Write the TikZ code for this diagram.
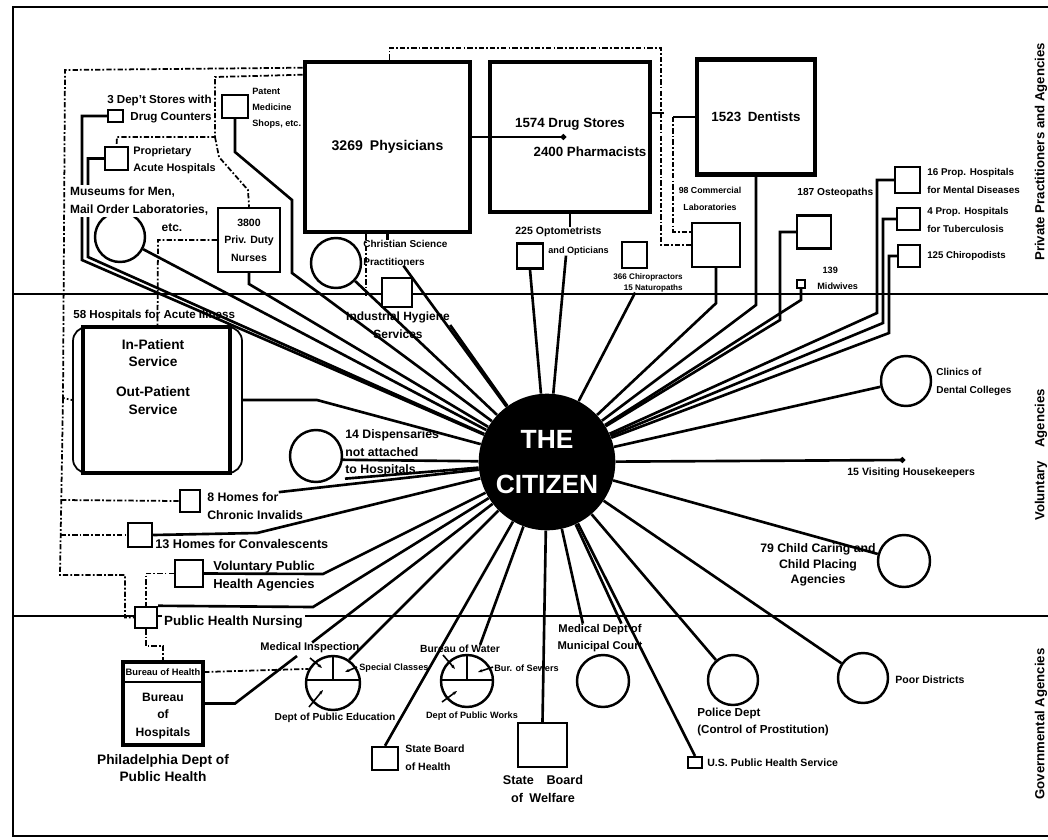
\documentclass[tikz,border=0pt]{standalone}
\usepackage{fontspec}
\setmainfont{Liberation Sans}
\usetikzlibrary{arrows.meta,calc}
\pgfdeclarelayer{bg}
\pgfsetlayers{bg,main}

\begin{document}
\begin{tikzpicture}[
  x=0.02cm, y=-0.02cm,
  lbl/.style={font={\bfseries\fontsize{7}{10}\selectfont}, inner sep=0pt, align=left},
  slbl/.style={font={\bfseries\fontsize{5.2}{9}\selectfont}, inner sep=0pt, align=left},
  fs/.style={font={\bfseries\fontsize{#1}{10}\selectfont}},
  biglbl/.style={font={\bfseries\fontsize{7.6}{9}\selectfont}},
  sz/.style 2 args={minimum width={#1*0.02cm}, minimum height={#2*0.02cm}},
  sbox/.style={rectangle, draw, line width=1.4pt, fill=white, inner sep=0pt},
  bigbox/.style={rectangle, draw, line width=2.6pt, fill=white, inner sep=0pt},
  ring/.style={circle, draw, line width=1.4pt, fill=white, inner sep=0pt, minimum size={#1*0.02cm}},
  spoke/.style={line width=1.5pt},
  dashdot/.style={line width=1pt, dash pattern=on 3pt off 1.2pt on 1pt off 1.2pt},
  divider/.style={line width=1.2pt},
  tick/.style={line width=0.9pt, -{Stealth[length=2.5pt]}},
  side/.style={font={\bfseries\fontsize{7.5}{9}\selectfont}, rotate=90, inner sep=0pt}
]
\useasboundingbox (0,0) rectangle (1048,839);

% private practitioners and agencies
\node[bigbox, sz={165}{170}, biglbl, font={\bfseries\fontsize{8}{9}\selectfont}] (phys) at (387.5,147) {3269\enspace Physicians};
\node[bigbox, sz={160}{150}] (drug) at (570,137) {};
\node[biglbl, inner sep=0pt] (druglbl) at (570,124) {1574 Drug Stores};
\node[biglbl, inner sep=0pt] (pharmlbl) at (590,152) {2400 Pharmacists};
\coordinate (rxdot) at (566,137);
\node[bigbox, sz={118}{115}, biglbl] (dent) at (756,117) {1523\enspace Dentists};
\node[sbox, sz={48}{44}] (comlab) at (716,245) {};
\node[slbl, align=center, fs=5] (comlablbl) at (710,199) {98 Commercial\\Laboratories};
\node[sbox, sz={26}{25}] (optom) at (530,256) {};
\node[slbl, anchor=west, fs=6] (optlbla) at (515,232) {225 Optometrists};
\node[slbl, anchor=west] (optlblb) at (548,251) {and Opticians};
\node[sbox, sz={25}{26}] (chiro) at (634.5,255) {};
\node[slbl, font={\bfseries\fontsize{4.6}{6.2}\selectfont}, align=right, anchor=east] (chirolbl) at (683,283) {366 Chiropractors\\15 Naturopaths};
\node[sbox, sz={34}{33}] (osteo) at (814,232) {};
\node[slbl, anchor=west, fs=5.8] (osteolbl) at (797,193) {187 Osteopaths};
\node[sbox, line width=1pt, sz={8}{8}] (midw) at (801,284) {};
\node[slbl, anchor=west] (midwlbl) at (817,278) {\hspace*{3pt}139\\Midwives};
\node[sbox, sz={25}{26}] (mental) at (907.5,180) {};
\node[slbl, anchor=west, fs=5.6] (mentallbl) at (927,181) {16 Prop. Hospitals\\for Mental Diseases};
\node[sbox, sz={23}{22}] (tuber) at (908.5,219) {};
\node[slbl, anchor=west, fs=5.6] (tuberlbl) at (927,220) {4 Prop. Hospitals\\for Tuberculosis};
\node[sbox, sz={22}{22}] (podist) at (909,256) {};
\node[slbl, anchor=west, fs=5.5] (podistlbl) at (927,256) {125 Chiropodists};

\node[sbox, sz={15}{12}] (dstore) at (115.5,116) {};
\node[slbl, align=right, anchor=east, fs=6.6] (dstorelbl) at (212,109) {3 Dep't Stores with\\Drug Counters};
\node[sbox, sz={23}{23}] (propacute) at (116.5,158.5) {};
\node[slbl, anchor=west, fs=6.2] (propacutelbl) at (133,160) {Proprietary\\Acute Hospitals};
\node[ring=50] (museum) at (120,237) {};
\node[lbl, anchor=west, fill=white, inner sep=1pt, fs=6.8] (museumlbl) at (68,201) {Museums for Men,\\Mail Order Laboratories,};
\node[lbl, fs=6.8] (museumetc) at (172,228) {etc.};
\node[sbox, sz={26}{23}] (patent) at (235,106.5) {};
\node[slbl, anchor=west] (patentlbl) at (252,108) {Patent\\Medicine\\Shops, etc.};
\node[sbox, sz={62}{64}, lbl, fs=6, align=center] (nurses) at (249,240) {3800\\Priv. Duty\\Nurses};
\node[ring=50] (xsci) at (336,263) {};
\node[slbl, anchor=north west, fs=5.7] (xscilbl) at (363,240) {Christian Science\\Practitioners};
\node[sbox, sz={30}{29}] (indhyg) at (397,292.5) {};
\node[lbl, align=center, fs=6.8] (indhyglbl) at (398,325) {Industrial Hygiene\\Services};

% voluntary agencies
\node[slbl, anchor=west, fs=6.6] (acutelbl) at (73,315) {58 Hospitals for Acute Illness};
\node[draw, line width=1pt, rounded corners=8pt, sz={169}{146}] (hosp) at (157.5,400) {};
\node[draw, line width=2pt, sz={147}{146}] (hospin) at (156.5,400) {};
\node[lbl, align=center, fs=7.8] (hosplbl) at (153,377) {In-Patient\\Service\\[7pt]Out-Patient\\Service};
\node[ring=52] (disp) at (316,456) {};
\node[lbl, anchor=west] (displbl) at (345,453) {14 Dispensaries\\not attached\\to Hospitals};
\node[sbox, sz={20}{22}] (home8) at (190,501) {};
\node[lbl, anchor=west] (home8a) at (207,497) {8 Homes for};
\node[lbl, anchor=west] (home8b) at (207,515) {Chronic Invalids};
\node[sbox, sz={24}{24}] (home13) at (140,535) {};
\node[lbl, anchor=west, fs=7.2] (home13lbl) at (155,544) {13 Homes for Convalescents};
\node[sbox, sz={28}{27}] (vph) at (189,573.5) {};
\node[lbl, anchor=west, fs=7.4] (vphlbl) at (213,576) {Voluntary Public\\Health Agencies};
\node[sbox, sz={22}{21}] (phn) at (146,617.5) {};
\node[lbl, anchor=west, fs=7.6, fill=white, inner sep=1pt] (phnlbl) at (162,622) {Public Health Nursing};
\node[ring=50] (dental) at (906,381) {};
\node[slbl, anchor=west, fs=5.7] (dentallbl) at (936,382) {Clinics of\\Dental Colleges};
\coordinate (hkdot) at (905,460);
\node[slbl, anchor=west, fs=6] (hklbl) at (847,473) {15 Visiting Housekeepers};
\node[ring=52] (child) at (904,561) {};
\node[lbl, align=center, font={\bfseries\fontsize{7}{9}\selectfont}] (childlbl) at (818,565) {79 Child Caring and\\Child Placing\\Agencies};

% governmental agencies
\node[sbox, line width=2pt, sz={80}{83}] (pdph) at (163,703.5) {};
\node[draw, line width=1.4pt, sz={80}{20}, font={\bfseries\fontsize{5.3}{6}\selectfont}, inner sep=0pt] (pdphhead) at (163,672) {Bureau of Health};
\node[lbl, align=center, fs=6.9] (bohlbl) at (163,716) {Bureau\\of\\Hospitals};
\node[lbl, align=center, fs=7.8] (pdphlbl) at (163,768) {Philadelphia Dept of\\Public Health};
\node[ring=54] (medinsp) at (333,683) {};
\node[lbl, fs=6.3] (medinsplbl) at (310,648) {Medical Inspection};
\node[slbl, anchor=west] (speclbl) at (359,668) {Special Classes};
\node[slbl, fs=5.8] (edulbl) at (335,718) {Dept of Public Education};
\node[ring=52] (water) at (467,681) {};
\node[slbl, fs=5.9] (waterlbl) at (460,649) {Bureau of Water};
\node[slbl, anchor=west] (sewerlbl) at (494,668) {Bur. of Sewers};
\node[slbl] (workslbl) at (472,716) {Dept of Public Works};
\node[sbox, sz={26}{23}] (sbh) at (385,758.5) {};
\node[lbl, anchor=west, fs=6] (sbhlbl) at (405,758) {State Board\\of Health};
\node[sbox, sz={49}{44}] (sbw) at (542.5,745) {};
\node[lbl, align=center, fs=7.2] (sbwlbl) at (543,789) {State\quad Board\\of\enspace Welfare};
\node[ring=52] (court) at (603,681) {};
\node[slbl, align=center, fs=6.4] (courtlbl) at (600,638) {Medical Dept of\\Municipal Court};
\node[sbox, line width=1.2pt, sz={14}{11}] (usphs) at (695,762.5) {};
\node[slbl, anchor=west, fs=6] (usphslbl) at (707,763) {U.S. Public Health Service};
\node[ring=50] (police) at (733,680) {};
\node[slbl, anchor=west, fs=6.6] (policelbl) at (697,722) {Police Dept\\(Control of Prostitution)};
\node[ring=50] (poor) at (863,678) {};
\node[slbl, anchor=west, fs=6] (poorlbl) at (895,680) {Poor Districts};

\node[side] (sidepriv) at (1041,152) {Private Practitioners and Agencies};
\node[side] (sidevol) at (1041,455) {Voluntary\quad Agencies};
\node[side] (sidegov) at (1041,724) {Governmental Agencies};

\node[circle, fill=black, minimum size={130*0.02cm}, text=white, align=center,
  font={\bfseries\fontsize{15}{26}\selectfont}] (cit) at (547,462) {THE\\CITIZEN};

% sections of the school and water circles
\draw[line width=1.2pt] ($(medinsp.center)+(-26.8,-3)$) -- ($(medinsp.center)+(26.8,-3)$);
\draw[line width=1.2pt] ($(medinsp.center)+(0,-27)$) -- ($(medinsp.center)+(0,-3)$);
\draw[tick] ($(medinsp.center)+(-23,-25)$) -- ($(medinsp.center)+(-11,-15)$);
\draw[tick] ($(medinsp.center)+(24,-16)$) -- ($(medinsp.center)+(12,-11)$);
\draw[tick] ($(medinsp.center)+(-24,24)$) -- ($(medinsp.center)+(-10,7)$);
\draw[line width=1.2pt] ($(water.center)+(-25.9,-1)$) -- ($(water.center)+(25.9,-1)$);
\draw[line width=1.2pt] ($(water.center)+(0,-26)$) -- ($(water.center)+(0,-1)$);
\draw[tick] ($(water.center)+(-24,-26)$) -- ($(water.center)+(-12,-12)$);
\draw[tick] ($(water.center)+(26,-14)$) -- ($(water.center)+(11,-9)$);
\draw[tick] ($(water.center)+(-25,21)$) -- ($(water.center)+(-10,10)$);

% prescriptions go to the drug stores
\draw[spoke, -{Circle[length=3pt]}] (phys.east |- rxdot) -- (rxdot);

\begin{pgfonlayer}{bg}
% frame and dividers
\draw[line width=1.4pt] (1048,7) -- (13,7) -- (13,836) -- (1048,836);
\draw[divider] (13,294) -- (1048,294);
\draw[divider] (13,616) -- (1048,616);

% dashed links
\draw[dashdot] ($(phys.north west)+(0,8)$) -- (65,70) -- (63,398) -- (hosp.west);
\draw[dashdot] (63,398) -- (60,575) -- (125,575) -- (125,617.5) -- (phn.west);
\draw[dashdot] (61,500) -- (home8.west);
\draw[dashdot] (61,535) -- (home13.west);
\draw[dashdot] ($(phys.north west)+(0,15)$) -- (215,77) -- (215,137) -- (117,137) -- (propacute.north);
\draw[dashdot] (215,137) -- (219,157) -- (248,190) -- (nurses.north);
\draw[dashdot] (nurses.west) -- (158,240) -- (hosp.north);
\draw[dashdot] ($(phys.north)+(2,0)$) -- ($(phys.north)+(2,-12)$) -| ($(comlab.west)+(-30,0)$) -- (comlab.west);
\draw[spoke] ($(drug.east)+(0,-24)$) -- ($(drug.east)+(12,-24)$);
\draw[spoke] (dent.west) -- ++(-22,0);
\draw[dashdot] ($(dent.west)+(-22,0)$) |- ($(comlab.north west)+(0,10)$);
\draw[dashdot] ($(phys.south west)+(63,0)$) -- ($(phys.south west)+(63,63)$);
\draw[dashdot] (vph.west) -| (phn.north);
\draw[dashdot] (phn.south) -- ++(0,17) -| (pdph.north);
\draw[dashdot] (pdphhead.east) -- (medinsp.150);

% spokes to the citizen
\draw[spoke] (dstore.west) -| (82,260) -- (cit);
\draw[spoke] (propacute.west) -| (88,257) -- (cit);
\draw[spoke] (museum) -- (cit);
\draw[spoke] (patent.south) -- (235,152) -- (292,200) -- (292,273) -- (cit);
\draw[spoke] (nurses.south) -- (249,284) -- (cit);
\draw[spoke] (xsci) -- (cit);
\draw[spoke] (phys.south) -- (phys.south |- xscilbl.north);
\draw[spoke] ($(xscilbl.south)+(-2,0)$) -- (cit);
\draw[spoke] (indhyglbl.east) -- (cit);
\draw[spoke] (optom.south) -- (cit);
\draw[spoke] (drug.south) -- (drug.south |- optlbla.north);
\draw[spoke] ($(optlblb.south west)+(18,0)$) -- (cit);
\draw[spoke] ($(chirolbl.south west)+(22,0)$) -- (cit);
\draw[spoke] (comlab.south) -- ++(0,35) -- (cit);
\draw[spoke] (dent.south) -- (756,305) -- (cit);
\draw[spoke] (osteo.west) -| (780,320) -- (cit);
\draw[spoke] (midw.south) -- (801,300) -- (cit);
\draw[spoke] (mental.west) -| (877,313) -- (cit);
\draw[spoke] (tuber.west) -| (883,323) -- (cit);
\draw[spoke] (podist.west) -| (889,333) -- (cit);
\draw[spoke] (hosp.east) -- (317,400) -- (cit);
\draw[spoke] (disp.-8) -- (cit);
\draw[spoke] ($(displbl.south west)+(0,2)$) -- (cit);
\draw[spoke] (home8a.north east) -- (cit);
\draw[spoke] (home13.east) -- (257,533) -- (cit);
\draw[spoke] (vph.east) -- (323,574) -- (cit);
\draw[spoke] (phn.north east) -- (313,607) -- (cit);
\draw[spoke] (pdph.east) -- (235,703.5) -- (297,656);
\draw[spoke] ($(medinsplbl.north west)+(52,0)$) -- (cit);
\draw[spoke] (medinsp.55) -- (cit);
\draw[spoke] ($(waterlbl.north)!0.5!(waterlbl.north east)$) -- (cit);
\draw[spoke] (sbh.north) -- (cit);
\draw[spoke] (sbw.north) -- (cit);
\draw[spoke] ($(courtlbl.north)!0.4!(courtlbl.north west)$) -- (cit);
\draw[spoke] ($(courtlbl.north)!0.5!(courtlbl.north east)$) -- (cit);
\draw[spoke] (usphs.north) -- (cit);
\draw[spoke] (police) -- (cit);
\draw[spoke] (poor) -- (cit);
\draw[spoke] (child.165) -- (cit);
\draw[spoke] (dental) -- (cit);
\draw[spoke, -{Circle[length=3pt]}] (cit) -- (hkdot);
\end{pgfonlayer}
\end{tikzpicture}
\end{document}
